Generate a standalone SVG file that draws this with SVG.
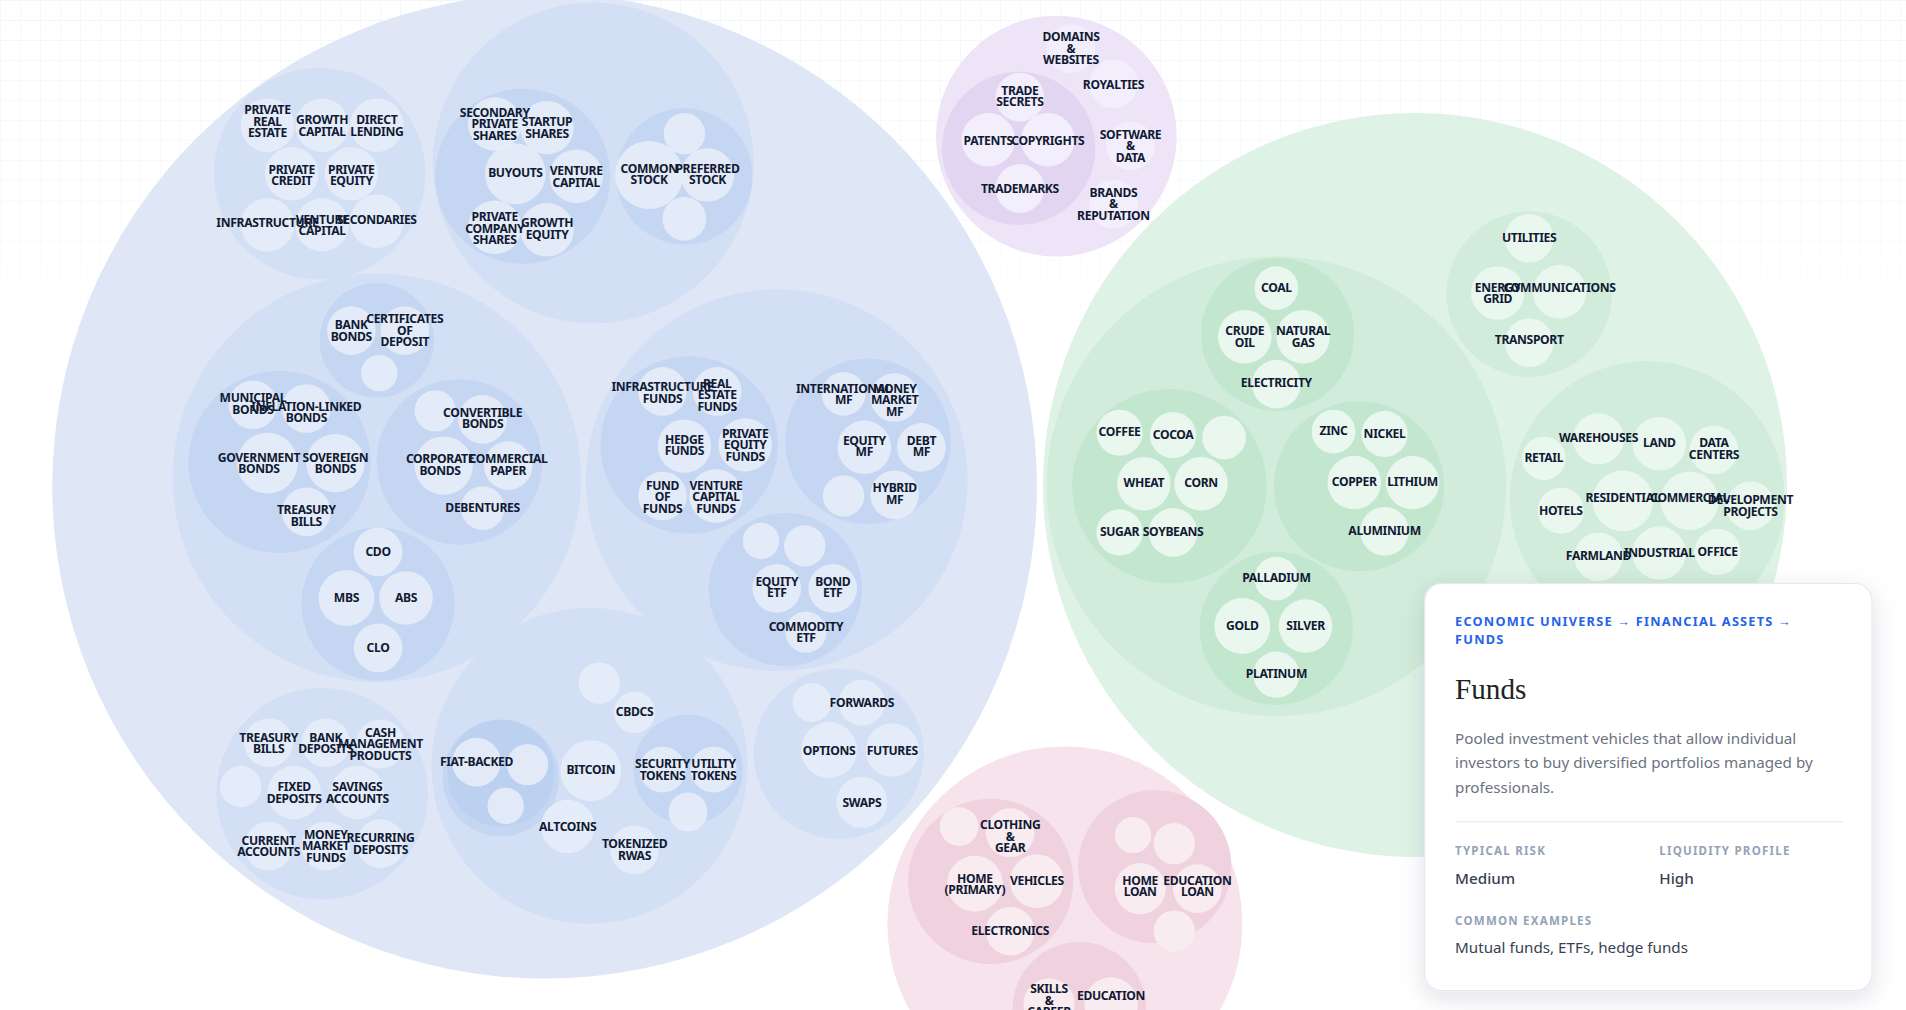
<svg xmlns="http://www.w3.org/2000/svg" width="1906" height="1010" viewBox="0 0 1906 1010">
<defs>
<pattern id="grid" width="20" height="20" patternUnits="userSpaceOnUse"><path d="M20 0H0V20" fill="none" stroke="#e9eef7" stroke-width="1"/></pattern>
<linearGradient id="fade" x1="0" y1="0" x2="0" y2="1"><stop offset="0" stop-color="#fff" stop-opacity="0"/><stop offset="1" stop-color="#fff" stop-opacity="1"/></linearGradient>
<filter id="sh" x="-20%" y="-20%" width="140%" height="140%"><feDropShadow dx="0" dy="6" stdDeviation="10" flood-color="#1a2440" flood-opacity="0.12"/></filter>
<style>
text{font-family:"Noto Sans","Liberation Sans",sans-serif;}
.l{font-size:10px;font-weight:700;fill:#111a33;text-anchor:middle;letter-spacing:-0.3px}
.b0{fill:#dfe7f7}.b1{fill:#d2dff5}.b2{fill:#c4d6f2}.b3{fill:#b3c9ee}
.bl{fill:#e9eff9;opacity:.85}
.p0{fill:#ede5f7}.p1{fill:#e1d5f2}.pl{fill:#f3eefb}
.g0{fill:#dff2e6}.g1{fill:#d1ecdb}.g2{fill:#c3e6cf}.gl{fill:#eaf7ef}
.r0{fill:#f6e3eb}.r1{fill:#f0d2de}.rl{fill:#f8ecf1}
</style>
</defs>
<rect width="1906" height="1010" fill="#fff"/>
<rect width="1906" height="400" fill="url(#grid)"/>
<rect width="1906" height="400" fill="url(#fade)"/>
<g transform="scale(1.2156)">
<g id="financial">
<circle class="b0" cx="448" cy="400" r="405"/>
<g id="private-markets"><circle class="b1" cx="263" cy="143" r="87"/>
<circle class="bl" cx="220" cy="103" r="22"/><circle class="bl" cx="265" cy="103" r="22"/><circle class="bl" cx="310" cy="103" r="22"/>
<circle class="bl" cx="240" cy="143" r="22"/><circle class="bl" cx="289" cy="143" r="22"/>
<circle class="bl" cx="220" cy="185" r="22"/><circle class="bl" cx="265" cy="185" r="22"/><circle class="bl" cx="310" cy="182" r="22"/>
<text class="l" x="220" y="94">PRIVATE<tspan x="220" dy="9.5">REAL</tspan><tspan x="220" dy="9.5">ESTATE</tspan></text>
<text class="l" x="265" y="102">GROWTH<tspan x="265" dy="9.5">CAPITAL</tspan></text>
<text class="l" x="310" y="102">DIRECT<tspan x="310" dy="9.5">LENDING</tspan></text>
<text class="l" x="240" y="143">PRIVATE<tspan x="240" dy="9.5">CREDIT</tspan></text>
<text class="l" x="289" y="143">PRIVATE<tspan x="289" dy="9.5">EQUITY</tspan></text>
<text class="l" x="220" y="187">INFRASTRUCTURE</text>
<text class="l" x="265" y="184">VENTURE<tspan x="265" dy="9.5">CAPITAL</tspan></text>
<text class="l" x="310" y="184">SECONDARIES</text>
</g>
<g id="equity"><circle class="b1" cx="488" cy="134" r="132"/>
<circle class="b2" cx="430" cy="145" r="72"/>
<circle class="bl" cx="407" cy="102" r="22"/><circle class="bl" cx="450" cy="105" r="22"/><circle class="bl" cx="424" cy="143" r="25"/><circle class="bl" cx="474" cy="145" r="22"/><circle class="bl" cx="407" cy="187" r="22"/><circle class="bl" cx="450" cy="189" r="22"/>
<text class="l" x="407" y="96">SECONDARY<tspan x="407" dy="9.5">PRIVATE</tspan><tspan x="407" dy="9.5">SHARES</tspan></text>
<text class="l" x="450" y="104">STARTUP<tspan x="450" dy="9.5">SHARES</tspan></text>
<text class="l" x="424" y="146">BUYOUTS</text>
<text class="l" x="474" y="144">VENTURE<tspan x="474" dy="9.5">CAPITAL</tspan></text>
<text class="l" x="407" y="182">PRIVATE<tspan x="407" dy="9.5">COMPANY</tspan><tspan x="407" dy="9.5">SHARES</tspan></text>
<text class="l" x="450" y="187">GROWTH<tspan x="450" dy="9.5">EQUITY</tspan></text>
<circle class="b2" cx="563" cy="145" r="56"/>
<circle class="bl" cx="563" cy="110" r="17"/><circle class="bl" cx="534" cy="144" r="28"/><circle class="bl" cx="582" cy="144" r="22"/><circle class="bl" cx="563" cy="180" r="18"/>
<text class="l" x="534" y="142">COMMON<tspan x="534" dy="9.5">STOCK</tspan></text>
<text class="l" x="582" y="142">PREFERRED<tspan x="582" dy="9.5">STOCK</tspan></text>
</g>
<g id="debt"><circle class="b1" cx="310" cy="393" r="168"/>
<circle class="b2" cx="310" cy="280" r="47"/>
<circle class="bl" cx="289" cy="272" r="20"/><circle class="bl" cx="333" cy="272" r="20"/><circle class="bl" cx="312" cy="307" r="15"/>
<text class="l" x="289" y="271">BANK<tspan x="289" dy="9.5">BONDS</tspan></text>
<text class="l" x="333" y="266">CERTIFICATES<tspan x="333" dy="9.5">OF</tspan><tspan x="333" dy="9.5">DEPOSIT</tspan></text>
<circle class="b2" cx="230" cy="380" r="75"/>
<circle class="bl" cx="208" cy="333" r="20"/><circle class="bl" cx="252" cy="336" r="20"/><circle class="bl" cx="220" cy="381" r="25"/><circle class="bl" cx="276" cy="381" r="24"/><circle class="bl" cx="252" cy="421" r="20"/>
<text class="l" x="208" y="331">MUNICIPAL<tspan x="208" dy="9.5">BONDS</tspan></text>
<text class="l" x="252" y="338">INFLATION-LINKED<tspan x="252" dy="9.5">BONDS</tspan></text>
<text class="l" x="213" y="380">GOVERNMENT<tspan x="213" dy="9.5">BONDS</tspan></text>
<text class="l" x="276" y="380">SOVEREIGN<tspan x="276" dy="9.5">BONDS</tspan></text>
<text class="l" x="252" y="423">TREASURY<tspan x="252" dy="9.5">BILLS</tspan></text>
<circle class="b2" cx="378" cy="380" r="68"/>
<circle class="bl" cx="358" cy="338" r="17"/><circle class="bl" cx="397" cy="345" r="20"/><circle class="bl" cx="365" cy="383" r="24"/><circle class="bl" cx="418" cy="383" r="20"/><circle class="bl" cx="397" cy="418" r="18"/>
<text class="l" x="397" y="343">CONVERTIBLE<tspan x="397" dy="9.5">BONDS</tspan></text>
<text class="l" x="362" y="381">CORPORATE<tspan x="362" dy="9.5">BONDS</tspan></text>
<text class="l" x="418" y="381">COMMERCIAL<tspan x="418" dy="9.5">PAPER</tspan></text>
<text class="l" x="397" y="421">DEBENTURES</text>
<circle class="b2" cx="311" cy="497" r="63"/>
<circle class="bl" cx="311" cy="454" r="20"/><circle class="bl" cx="285" cy="492" r="23"/><circle class="bl" cx="334" cy="492" r="22"/><circle class="bl" cx="311" cy="533" r="20"/>
<text class="l" x="311" y="457">CDO</text><text class="l" x="285" y="495">MBS</text><text class="l" x="334" y="495">ABS</text><text class="l" x="311" y="536">CLO</text>
</g>
<g id="funds"><circle class="b1" cx="639" cy="395" r="157"/>
<circle class="b2" cx="567" cy="366" r="73"/>
<circle class="bl" cx="545" cy="322" r="20"/><circle class="bl" cx="590" cy="322" r="20"/><circle class="bl" cx="563" cy="367" r="22"/><circle class="bl" cx="613" cy="366" r="22"/><circle class="bl" cx="545" cy="408" r="20"/><circle class="bl" cx="589" cy="408" r="22"/>
<text class="l" x="545" y="322">INFRASTRUCTURE<tspan x="545" dy="9.5">FUNDS</tspan></text>
<text class="l" x="590" y="319">REAL<tspan x="590" dy="9.5">ESTATE</tspan><tspan x="590" dy="9.5">FUNDS</tspan></text>
<text class="l" x="563" y="365">HEDGE<tspan x="563" dy="9.5">FUNDS</tspan></text>
<text class="l" x="613" y="360">PRIVATE<tspan x="613" dy="9.5">EQUITY</tspan><tspan x="613" dy="9.5">FUNDS</tspan></text>
<text class="l" x="545" y="403">FUND<tspan x="545" dy="9.5">OF</tspan><tspan x="545" dy="9.5">FUNDS</tspan></text>
<text class="l" x="589" y="403">VENTURE<tspan x="589" dy="9.5">CAPITAL</tspan><tspan x="589" dy="9.5">FUNDS</tspan></text>
<circle class="b2" cx="714" cy="363" r="68"/>
<circle class="bl" cx="694" cy="324" r="18"/><circle class="bl" cx="736" cy="327" r="20"/><circle class="bl" cx="711" cy="368" r="22"/><circle class="bl" cx="758" cy="368" r="20"/><circle class="bl" cx="694" cy="408" r="17"/><circle class="bl" cx="736" cy="407" r="20"/>
<text class="l" x="694" y="323">INTERNATIONAL<tspan x="694" dy="9.5">MF</tspan></text>
<text class="l" x="736" y="323">MONEY<tspan x="736" dy="9.5">MARKET</tspan><tspan x="736" dy="9.5">MF</tspan></text>
<text class="l" x="711" y="366">EQUITY<tspan x="711" dy="9.5">MF</tspan></text>
<text class="l" x="758" y="366">DEBT<tspan x="758" dy="9.5">MF</tspan></text>
<text class="l" x="736" y="405">HYBRID<tspan x="736" dy="9.5">MF</tspan></text>
<circle class="b2" cx="646" cy="485" r="63"/>
<circle class="bl" cx="626" cy="445" r="15"/><circle class="bl" cx="662" cy="449" r="17"/><circle class="bl" cx="639" cy="484" r="20"/><circle class="bl" cx="685" cy="484" r="20"/><circle class="bl" cx="663" cy="520" r="17"/>
<text class="l" x="639" y="482">EQUITY<tspan x="639" dy="9.5">ETF</tspan></text>
<text class="l" x="685" y="482">BOND<tspan x="685" dy="9.5">ETF</tspan></text>
<text class="l" x="663" y="519">COMMODITY<tspan x="663" dy="9.5">ETF</tspan></text>
</g>
<g id="cash"><circle class="b1" cx="265" cy="653" r="87"/>
<circle class="bl" cx="198" cy="647" r="17"/><circle class="bl" cx="221" cy="611" r="20"/><circle class="bl" cx="268" cy="611" r="20"/><circle class="bl" cx="313" cy="612" r="20"/><circle class="bl" cx="242" cy="652" r="22"/><circle class="bl" cx="294" cy="652" r="22"/><circle class="bl" cx="221" cy="696" r="20"/><circle class="bl" cx="268" cy="696" r="20"/><circle class="bl" cx="313" cy="694" r="20"/>
<text class="l" x="221" y="610">TREASURY<tspan x="221" dy="9.5">BILLS</tspan></text>
<text class="l" x="268" y="610">BANK<tspan x="268" dy="9.5">DEPOSITS</tspan></text>
<text class="l" x="313" y="606">CASH<tspan x="313" dy="9.5">MANAGEMENT</tspan><tspan x="313" dy="9.5">PRODUCTS</tspan></text>
<text class="l" x="242" y="651">FIXED<tspan x="242" dy="9.5">DEPOSITS</tspan></text>
<text class="l" x="294" y="651">SAVINGS<tspan x="294" dy="9.5">ACCOUNTS</tspan></text>
<text class="l" x="221" y="695">CURRENT<tspan x="221" dy="9.5">ACCOUNTS</tspan></text>
<text class="l" x="268" y="690">MONEY<tspan x="268" dy="9.5">MARKET</tspan><tspan x="268" dy="9.5">FUNDS</tspan></text>
<text class="l" x="313" y="693">RECURRING<tspan x="313" dy="9.5">DEPOSITS</tspan></text>
</g>
<g id="digital"><circle class="b1" cx="485" cy="630" r="130"/>
<circle class="b2" cx="412" cy="640" r="48"/><circle class="b3" cx="412" cy="636" r="44" opacity=".5"/>
<circle class="bl" cx="392" cy="627" r="20"/><circle class="bl" cx="434" cy="629" r="17"/><circle class="bl" cx="416" cy="663" r="15"/>
<text class="l" x="392" y="630">FIAT-BACKED</text>
<circle class="bl" cx="493" cy="562" r="17"/><circle class="bl" cx="522" cy="586" r="17"/>
<text class="l" x="522" y="589">CBDCS</text>
<circle class="bl" cx="486" cy="634" r="25"/><text class="l" x="486" y="637">BITCOIN</text>
<circle class="bl" cx="467" cy="680" r="22"/><text class="l" x="467" y="684">ALTCOINS</text>
<circle class="bl" cx="522" cy="699" r="20"/><text class="l" x="522" y="698">TOKENIZED<tspan x="522" dy="9.5">RWAS</tspan></text>
<circle class="b2" cx="566" cy="633" r="45"/>
<circle class="bl" cx="545" cy="633" r="19"/><circle class="bl" cx="587" cy="633" r="19"/><circle class="bl" cx="566" cy="668" r="16"/>
<text class="l" x="545" y="632">SECURITY<tspan x="545" dy="9.5">TOKENS</tspan></text>
<text class="l" x="587" y="632">UTILITY<tspan x="587" dy="9.5">TOKENS</tspan></text>
</g>
<g id="derivatives"><circle class="b1" cx="690" cy="620" r="70"/>
<circle class="bl" cx="668" cy="578" r="16"/><circle class="bl" cx="709" cy="578" r="19"/><circle class="bl" cx="682" cy="617" r="23"/><circle class="bl" cx="734" cy="617" r="22"/><circle class="bl" cx="709" cy="660" r="21"/>
<text class="l" x="709" y="582">FORWARDS</text><text class="l" x="682" y="621">OPTIONS</text><text class="l" x="734" y="621">FUTURES</text><text class="l" x="709" y="664">SWAPS</text>
</g>
</g>
<g id="intangible">
<circle class="p0" cx="869" cy="112" r="99"/>
<circle class="p1" cx="838" cy="122" r="63"/>
<circle class="pl" cx="839" cy="80" r="20"/><circle class="pl" cx="813" cy="115" r="22"/><circle class="pl" cx="862" cy="115" r="22"/><circle class="pl" cx="839" cy="155" r="20"/>
<circle class="pl" cx="881" cy="40" r="20"/><circle class="pl" cx="916" cy="69" r="20"/><circle class="pl" cx="930" cy="120" r="20"/><circle class="pl" cx="916" cy="168" r="20"/>
<text class="l" x="839" y="78">TRADE<tspan x="839" dy="9.5">SECRETS</tspan></text>
<text class="l" x="813" y="119">PATENTS</text><text class="l" x="862" y="119">COPYRIGHTS</text>
<text class="l" x="839" y="159">TRADEMARKS</text>
<text class="l" x="881" y="34">DOMAINS<tspan x="881" dy="9.5">&amp;</tspan><tspan x="881" dy="9.5">WEBSITES</tspan></text>
<text class="l" x="916" y="73">ROYALTIES</text>
<text class="l" x="930" y="114">SOFTWARE<tspan x="930" dy="9.5">&amp;</tspan><tspan x="930" dy="9.5">DATA</tspan></text>
<text class="l" x="916" y="162">BRANDS<tspan x="916" dy="9.5">&amp;</tspan><tspan x="916" dy="9.5">REPUTATION</tspan></text>
</g>
<g id="real-assets">
<circle class="g0" cx="1164" cy="399" r="306"/>
<circle class="g1" cx="1050" cy="400" r="189"/>
<circle class="g2" cx="1051" cy="275" r="63"/>
<circle class="gl" cx="1050" cy="237" r="18"/><circle class="gl" cx="1024" cy="277" r="22"/><circle class="gl" cx="1072" cy="277" r="22"/><circle class="gl" cx="1050" cy="316" r="20"/>
<text class="l" x="1050" y="240">COAL</text><text class="l" x="1024" y="276">CRUDE<tspan x="1024" dy="9.5">OIL</tspan></text><text class="l" x="1072" y="276">NATURAL<tspan x="1072" dy="9.5">GAS</tspan></text><text class="l" x="1050" y="318">ELECTRICITY</text>
<circle class="g2" cx="962" cy="400" r="80"/>
<circle class="gl" cx="921" cy="356" r="19"/><circle class="gl" cx="965" cy="358" r="19"/><circle class="gl" cx="1007" cy="360" r="18"/><circle class="gl" cx="941" cy="398" r="22"/><circle class="gl" cx="988" cy="398" r="22"/><circle class="gl" cx="921" cy="438" r="19"/><circle class="gl" cx="965" cy="438" r="20"/>
<text class="l" x="921" y="359">COFFEE</text><text class="l" x="965" y="361">COCOA</text><text class="l" x="941" y="401">WHEAT</text><text class="l" x="988" y="401">CORN</text><text class="l" x="921" y="441">SUGAR</text><text class="l" x="965" y="441">SOYBEANS</text>
<circle class="g2" cx="1118" cy="400" r="70"/>
<circle class="gl" cx="1097" cy="355" r="18"/><circle class="gl" cx="1139" cy="357" r="19"/><circle class="gl" cx="1114" cy="397" r="22"/><circle class="gl" cx="1162" cy="397" r="22"/><circle class="gl" cx="1139" cy="437" r="20"/>
<text class="l" x="1097" y="358">ZINC</text><text class="l" x="1139" y="360">NICKEL</text><text class="l" x="1114" y="400">COPPER</text><text class="l" x="1162" y="400">LITHIUM</text><text class="l" x="1139" y="440">ALUMINIUM</text>
<circle class="g2" cx="1050" cy="517" r="63"/>
<circle class="gl" cx="1050" cy="476" r="18"/><circle class="gl" cx="1022" cy="515" r="23"/><circle class="gl" cx="1074" cy="515" r="22"/><circle class="gl" cx="1050" cy="555" r="19"/>
<text class="l" x="1050" y="479">PALLADIUM</text><text class="l" x="1022" y="518">GOLD</text><text class="l" x="1074" y="518">SILVER</text><text class="l" x="1050" y="558">PLATINUM</text>
<circle class="g1" cx="1258" cy="242" r="68"/>
<circle class="gl" cx="1258" cy="196" r="20"/><circle class="gl" cx="1232" cy="241" r="22"/><circle class="gl" cx="1283" cy="240" r="22"/><circle class="gl" cx="1258" cy="282" r="20"/>
<text class="l" x="1258" y="199">UTILITIES</text><text class="l" x="1232" y="240">ENERGY<tspan x="1232" dy="9.5">GRID</tspan></text><text class="l" x="1283" y="240">COMMUNICATIONS</text><text class="l" x="1258" y="283">TRANSPORT</text>
<circle class="g1" cx="1355" cy="410" r="113"/>
<circle class="gl" cx="1270" cy="377" r="18"/><circle class="gl" cx="1315" cy="361" r="21"/><circle class="gl" cx="1365" cy="365" r="22"/><circle class="gl" cx="1410" cy="370" r="20"/><circle class="gl" cx="1284" cy="420" r="19"/><circle class="gl" cx="1335" cy="412" r="25"/><circle class="gl" cx="1390" cy="412" r="24"/><circle class="gl" cx="1440" cy="416" r="20"/><circle class="gl" cx="1315" cy="458" r="20"/><circle class="gl" cx="1365" cy="455" r="22"/><circle class="gl" cx="1413" cy="454" r="19"/>
<text class="l" x="1270" y="380">RETAIL</text><text class="l" x="1315" y="364">WAREHOUSES</text><text class="l" x="1365" y="368">LAND</text><text class="l" x="1410" y="368">DATA<tspan x="1410" dy="9.5">CENTERS</tspan></text><text class="l" x="1284" y="424">HOTELS</text><text class="l" x="1335" y="413">RESIDENTIAL</text><text class="l" x="1390" y="413">COMMERCIAL</text><text class="l" x="1440" y="415">DEVELOPMENT<tspan x="1440" dy="9.5">PROJECTS</tspan></text><text class="l" x="1315" y="461">FARMLAND</text><text class="l" x="1365" y="458">INDUSTRIAL</text><text class="l" x="1413" y="457">OFFICE</text>
</g>
<g id="personal">
<circle class="r0" cx="876" cy="760" r="146"/>
<circle class="r1" cx="815" cy="725" r="68"/>
<circle class="rl" cx="789" cy="680" r="16"/><circle class="rl" cx="831" cy="685" r="20"/><circle class="rl" cx="802" cy="727" r="23"/><circle class="rl" cx="853" cy="725" r="22"/><circle class="rl" cx="831" cy="766" r="20"/>
<text class="l" x="831" y="682">CLOTHING<tspan x="831" dy="9.5">&amp;</tspan><tspan x="831" dy="9.5">GEAR</tspan></text>
<text class="l" x="802" y="726">HOME<tspan x="802" dy="9.5">(PRIMARY)</tspan></text><text class="l" x="853" y="728">VEHICLES</text><text class="l" x="831" y="769">ELECTRONICS</text>
<circle class="r1" cx="950" cy="713" r="63"/>
<circle class="rl" cx="932" cy="687" r="15"/><circle class="rl" cx="966" cy="694" r="17"/><circle class="rl" cx="938" cy="731" r="21"/><circle class="rl" cx="985" cy="731" r="20"/><circle class="rl" cx="966" cy="766" r="17"/>
<text class="l" x="938" y="728">HOME<tspan x="938" dy="9.5">LOAN</tspan></text><text class="l" x="985" y="728">EDUCATION<tspan x="985" dy="9.5">LOAN</tspan></text>
<circle class="r1" cx="888" cy="830" r="55"/>
<circle class="rl" cx="863" cy="826" r="21"/><circle class="rl" cx="914" cy="826" r="22"/>
<text class="l" x="863" y="817">SKILLS<tspan x="863" dy="9.5">&amp;</tspan><tspan x="863" dy="9.5">CAREER</tspan></text><text class="l" x="914" y="823">EDUCATION</text>
</g>
<g id="card">
<rect x="1172" y="480" width="368" height="335" rx="14" fill="#fff" stroke="#e6e9f0" filter="url(#sh)"/>
<text x="1197" y="515" font-size="10.5" font-weight="700" fill="#2563eb" letter-spacing="1">ECONOMIC UNIVERSE → FINANCIAL ASSETS →</text>
<text x="1197" y="530" font-size="10.5" font-weight="700" fill="#2563eb" letter-spacing="1">FUNDS</text>
<text x="1197" y="575" font-size="24" fill="#222" style="font-family:'Liberation Serif',serif">Funds</text>
<text x="1197" y="612" font-size="12.5" fill="#6b7280">Pooled investment vehicles that allow individual</text>
<text x="1197" y="632" font-size="12.5" fill="#6b7280">investors to buy diversified portfolios managed by</text>
<text x="1197" y="652" font-size="12.5" fill="#6b7280">professionals.</text>
<line x1="1197" y1="676" x2="1516" y2="676" stroke="#e5e8ef"/>
<text x="1197" y="703" font-size="9.5" font-weight="700" fill="#94a3b8" letter-spacing="1">TYPICAL RISK</text>
<text x="1365" y="703" font-size="9.5" font-weight="700" fill="#94a3b8" letter-spacing="1">LIQUIDITY PROFILE</text>
<text x="1197" y="727" font-size="12.5" font-weight="500" fill="#374151">Medium</text>
<text x="1365" y="727" font-size="12.5" font-weight="500" fill="#374151">High</text>
<text x="1197" y="761" font-size="9.5" font-weight="700" fill="#94a3b8" letter-spacing="1">COMMON EXAMPLES</text>
<text x="1197" y="784" font-size="12.5" fill="#374151">Mutual funds, ETFs, hedge funds</text>
</g>
<g id="connectors"/>
</g>
</svg>
